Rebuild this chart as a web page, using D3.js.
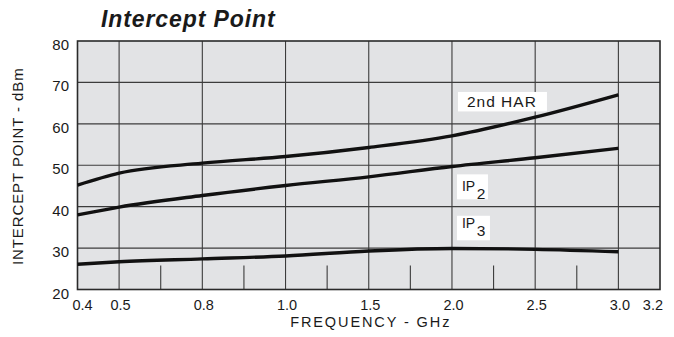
<!DOCTYPE html>
<html>
<head>
<meta charset="utf-8">
<script src="https://cdn.jsdelivr.net/npm/d3@7"></script>
<style>
  html, body { margin: 0; padding: 0; background: #fff; }
  svg { display: block; }
  text { font-family: "Liberation Sans", Arial, Helvetica, sans-serif; fill: #1a1a1a; }
</style>
</head>
<body>
<svg id="chart" width="674" height="337"></svg>
<script>
// ---- Data ----
const frequencies = [0.4, 0.5, 0.8, 1.0, 1.5, 2.0, 2.5, 3.0];
const harmonic2nd = [45.2, 48.1, 50.5, 52.1, 54.3, 57.1, 61.6, 67.0];
const ip2Values   = [38.0, 39.9, 42.7, 45.1, 47.2, 49.7, 51.8, 54.1];
const ip3Values   = [26.1, 26.7, 27.4, 28.1, 29.3, 29.9, 29.7, 29.1];
const xTickValues = [0.4, 0.5, 0.8, 1.0, 1.5, 2.0, 2.5, 3.0, 3.2];
const xTickLabels = ["0.4", "0.5", "0.8", "1.0", "1.5", "2.0", "2.5", "3.0", "3.2"];
const xMinorTicks = [0.65, 0.9, 1.25, 1.75, 2.25, 2.75];
const yTickValues = [20, 30, 40, 50, 60, 70, 80];

// ---- Layout ----
const mLeft = 77.5, mRight = 660, mTop = 41, mBottom = 289.5;
const unit = (mRight - mLeft) / 7;
const unitPos = [0, 0.5, 1.5, 2.5, 3.5, 4.5, 5.5, 6.5, 7.0];

const svg = d3.select("#chart");

const x = d3.scaleLinear()
  .domain(xTickValues)
  .range(unitPos.map(u => mLeft + u * unit));
const y = d3.scaleLinear().domain([20, 80]).range([mBottom, mTop]);

// Plot background
svg.append("rect")
  .attr("x", mLeft).attr("y", mTop)
  .attr("width", mRight - mLeft).attr("height", mBottom - mTop)
  .attr("fill", "#e2e3e5");

// Grid
const grid = svg.append("g").attr("stroke", "#3c3c3c").attr("stroke-width", 1.1);
grid.selectAll(".gx").data(xTickValues.slice(1, -1)).join("line")
  .attr("x1", d => x(d)).attr("x2", d => x(d))
  .attr("y1", mTop).attr("y2", mBottom);
grid.selectAll(".gy").data(yTickValues.slice(1, -1)).join("line")
  .attr("x1", mLeft).attr("x2", mRight)
  .attr("y1", d => y(d)).attr("y2", d => y(d));

// Minor ticks at bottom
svg.append("g").attr("stroke", "#3c3c3c").attr("stroke-width", 1.1)
  .selectAll("line").data(xMinorTicks).join("line")
  .attr("x1", d => x(d)).attr("x2", d => x(d))
  .attr("y1", mBottom).attr("y2", mBottom - 24);

// Frame
svg.append("rect")
  .attr("x", mLeft).attr("y", mTop)
  .attr("width", mRight - mLeft).attr("height", mBottom - mTop)
  .attr("fill", "none").attr("stroke", "#2a2a2a").attr("stroke-width", 1.6);

// Curves
const line = d3.line()
  .x((d, i) => x(frequencies[i]))
  .y(d => y(d))
  .curve(d3.curveMonotoneX);

[harmonic2nd, ip2Values, ip3Values].forEach(series => {
  svg.append("path")
    .attr("d", line(series))
    .attr("fill", "none")
    .attr("stroke", "#111")
    .attr("stroke-width", 3.4)
    .attr("stroke-linecap", "butt");
});

// Y tick labels
svg.append("g").selectAll("text").data(yTickValues).join("text")
  .attr("x", mLeft - 8.5)
  .attr("y", d => y(d) + 9)
  .attr("text-anchor", "end")
  .attr("font-size", 15)
  .text(d => d);

// X tick labels
const nX = xTickValues.length;
svg.append("g").selectAll("text").data(xTickValues).join("text")
  .attr("x", (d, i) => i === 0 ? x(d) - 5 : i === nX - 1 ? x(d) + 3 : x(d) + 1.5)
  .attr("y", mBottom + 20.5)
  .attr("text-anchor", (d, i) => i === 0 ? "start" : i === nX - 1 ? "end" : "middle")
  .attr("font-size", 14.5)
  .text((d, i) => xTickLabels[i]);

// Axis titles
svg.append("text")
  .attr("x", (mLeft + mRight) / 2 + 2)
  .attr("y", 326.5)
  .attr("text-anchor", "middle")
  .attr("font-size", 14.5)
  .attr("letter-spacing", 1.9)
  .text("FREQUENCY - GHz");

svg.append("text")
  .attr("transform", `translate(23,${(mTop + mBottom) / 2 + 1}) rotate(-90)`)
  .attr("text-anchor", "middle")
  .attr("font-size", 15)
  .attr("letter-spacing", 0.9)
  .text("INTERCEPT POINT - dBm");

// Title
svg.append("text")
  .attr("x", 101)
  .attr("y", 27)
  .attr("font-size", 23)
  .attr("font-weight", "bold")
  .attr("font-style", "italic")
  .attr("letter-spacing", 0.9)
  .text("Intercept Point");

// Series labels
function boxLabel(bx, by, bw, bh) {
  svg.append("rect").attr("x", bx).attr("y", by)
    .attr("width", bw).attr("height", bh).attr("fill", "#fff");
}
const lx = x(2.0);
boxLabel(lx + 6, y(67.7), 89, 19.5);
svg.append("text")
  .attr("x", lx + 15).attr("y", y(67.7) + 15.5)
  .attr("font-size", 15.5).attr("letter-spacing", 1.0)
  .text("2nd HAR");

boxLabel(lx + 5, y(47.8), 31, 25);
const t2 = svg.append("text")
  .attr("x", lx + 10).attr("y", y(47.8) + 16.5).attr("font-size", 14);
t2.append("tspan").text("IP");
t2.append("tspan").attr("dx", 1.5).attr("dy", 8).attr("font-size", 15.5).text("2");

boxLabel(lx + 5, y(37.8), 33, 24.5);
const t3 = svg.append("text")
  .attr("x", lx + 10).attr("y", y(37.8) + 12.5).attr("font-size", 14);
t3.append("tspan").text("IP");
t3.append("tspan").attr("dx", 1.5).attr("dy", 8).attr("font-size", 15.5).text("3");
</script>
</body>
</html>
